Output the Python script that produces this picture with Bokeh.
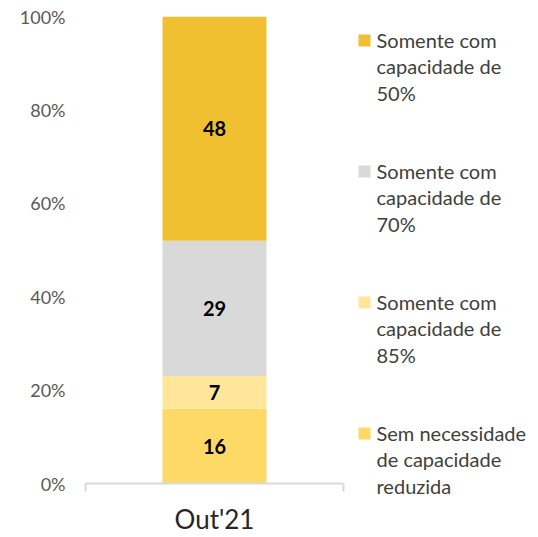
from bokeh.plotting import figure
from bokeh.layouts import row, column
from bokeh.models import ColumnDataSource, Range1d, FixedTicker, PrintfTickFormatter
from bokeh.embed import file_html
from bokeh.resources import INLINE
from bokeh.core.properties import value

# ---- data ----
categories = ["Out'21"]
series_keys = ["sem", "c85", "c70", "c50"]
series_labels = [
    "Sem necessidade\nde capacidade\nreduzida",
    "Somente com\ncapacidade de\n85%",
    "Somente com\ncapacidade de\n70%",
    "Somente com\ncapacidade de\n50%",
]
values_sem = [16]
values_c85 = [7]
values_c70 = [29]
values_c50 = [48]
colors = ["#FFD966", "#FFE699", "#D9D9D9", "#F0C030"]
y_ticks = [0, 20, 40, 60, 80, 100]

FONT = "Lato"
H = 537

src = ColumnDataSource(dict(x=[0.5], sem=values_sem, c85=values_c85, c70=values_c70, c50=values_c50))

p = figure(width=353, height=H, output_backend="svg", toolbar_location=None,
           x_range=Range1d(0, 1), y_range=Range1d(0, 100),
           min_border_left=85, min_border_right=10, min_border_top=16, min_border_bottom=49)
p.outline_line_color = None
p.grid.grid_line_color = None

p.vbar_stack(series_keys, x="x", width=0.403, source=src, color=colors, line_color=None)

# data labels
all_vals = [values_sem[0], values_c85[0], values_c70[0], values_c50[0]]
centers, cum = [], 0
for v in all_vals:
    centers.append(cum + v / 2)
    cum += v
lab_src = ColumnDataSource(dict(x=[0.5] * len(all_vals), y=centers, t=[str(v) for v in all_vals]))
p.text(x="x", y="y", text="t", source=lab_src, text_align="center", text_baseline="middle",
       text_font=value(FONT), text_font_style="bold", text_font_size="20px", text_color="black")

# y axis
yax = p.yaxis[0]
yax.ticker = FixedTicker(ticks=y_ticks)
yax.formatter = PrintfTickFormatter(format="%d%%")
yax.axis_line_color = None
yax.major_tick_line_color = None
yax.minor_tick_line_color = None
yax.major_tick_out = 0
yax.major_label_standoff = 20
yax.major_label_text_font = FONT
yax.major_label_text_font_size = "18px"
yax.major_label_text_color = "#595959"

# x axis
xax = p.xaxis[0]
xax.ticker = FixedTicker(ticks=[0.5], minor_ticks=[0, 1])
xax.major_label_overrides = {0.5: categories[0]}
xax.axis_line_color = "#D9D9D9"
xax.axis_line_width = 2
xax.major_tick_line_color = None
xax.major_tick_out = 0
xax.major_tick_in = 0
xax.minor_tick_line_color = "#D9D9D9"
xax.minor_tick_line_width = 2
xax.minor_tick_out = 8
xax.minor_tick_in = 0
xax.major_label_standoff = 11
xax.major_label_text_font = FONT
xax.major_label_text_font_size = "26px"
xax.major_label_text_color = "#262626"

# ---- legend panel (top to bottom: 50%, 70%, 85%, sem) ----
LW = 177
lg = figure(width=LW, height=H, output_backend="svg", toolbar_location=None,
            x_range=Range1d(0, LW), y_range=Range1d(0, H),
            min_border_left=0, min_border_right=0, min_border_top=0, min_border_bottom=0,
            x_axis_type=None, y_axis_type=None)
lg.outline_line_color = None
lg.grid.grid_line_color = None

order = [3, 2, 1, 0]
leg_top, leg_step = H - 40, 131
ys = [leg_top - i * leg_step for i in range(len(order))]
leg_src = ColumnDataSource(dict(
    x=[11] * len(order), y=ys, tx=[23] * len(order), ty=[y + 13 for y in ys],
    c=[colors[i] for i in order], t=[series_labels[i] for i in order]))
lg.rect(x="x", y="y", width=12, height=12, source=leg_src, fill_color="c", line_color=None)
lg.text(x="tx", y="ty", text="t", source=leg_src, text_font=value(FONT), text_font_size="20px",
        text_color="#404040", text_baseline="top", text_align="left", text_line_height=1.12)

layout = row(p, column(lg))
open("out.html", "w").write(file_html(layout, INLINE))
